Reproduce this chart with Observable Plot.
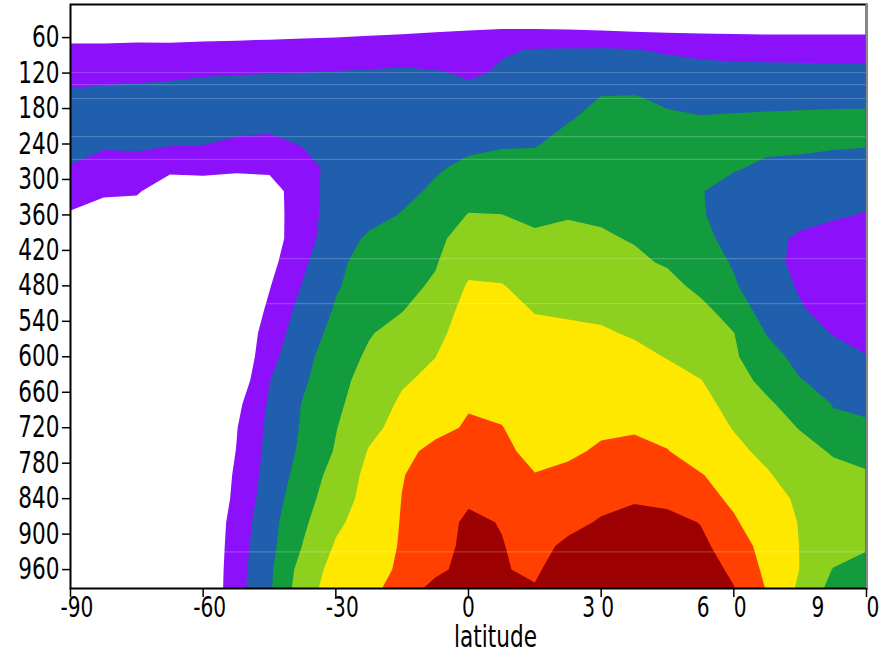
<!DOCTYPE html>
<html>
<head>
<meta charset="utf-8">
<script src="https://cdn.jsdelivr.net/npm/d3@7"></script>
<script src="https://cdn.jsdelivr.net/npm/@observablehq/plot@0.6"></script>
<style>
  html, body { margin: 0; padding: 0; background: #fff; }
  #chart svg { display: block; }
</style>
</head>
<body>
<div id="chart"></div>
<script>
// ---- grid coordinates (sample centres) ----
const latitudes = [-90, -82.5, -75, -67.5, -60, -52.5, -45, -37.5, -30, -22.5, -15, -7.5, 0,
                   7.5, 15, 22.5, 30, 37.5, 45, 52.5, 60, 67.5, 75, 82.5, 90];
const pressures = [0, 40, 80, 120, 160, 200, 240, 280, 320, 360, 400, 440, 480, 520, 560,
                   600, 640, 680, 720, 760, 800, 840, 880, 920, 960, 1000];

// ---- field values (one row per pressure level) ----
const field = [
  [0.10,0.10,0.10,0.10,0.10,0.10,0.10,0.10,0.10,0.10,0.10,0.10,0.10,0.10,0.10,0.10,0.10,0.10,0.10,0.10,0.10,0.10,0.10,0.10,0.10],
  [0.58,0.56,0.56,0.52,0.54,0.56,0.59,0.62,0.64,0.70,0.74,0.83,0.90,0.85,0.84,0.80,0.74,0.66,0.64,0.63,0.63,0.63,0.63,0.65,0.65],
  [1.14,1.15,1.18,1.19,1.23,1.26,1.29,1.32,1.36,1.42,1.47,1.46,1.39,1.94,2.03,2.05,2.06,2.02,1.88,1.75,1.68,1.64,1.62,1.59,1.59],
  [1.70,1.74,1.80,1.84,1.93,1.96,1.98,2.01,2.06,2.11,2.16,2.09,1.89,2.08,2.20,2.36,2.53,2.52,2.42,2.34,2.31,2.30,2.29,2.28,2.28],
  [2.17,2.24,2.27,2.33,2.36,2.41,2.46,2.38,2.40,2.40,2.40,2.35,2.25,2.40,2.45,2.66,3.01,3.03,2.88,2.78,2.74,2.75,2.76,2.77,2.77],
  [2.52,2.58,2.58,2.47,2.43,2.34,2.30,2.40,2.45,2.45,2.45,2.50,2.53,2.70,2.72,2.97,3.18,3.17,3.11,3.06,3.11,3.15,3.18,3.21,3.22],
  [2.32,2.12,2.16,2.08,2.03,1.85,1.76,2.06,2.30,2.35,2.40,2.45,2.83,2.93,2.95,3.22,3.36,3.32,3.25,3.19,3.33,3.24,3.15,3.09,3.06],
  [1.95,1.64,1.66,1.24,1.29,1.17,1.23,1.65,2.30,2.41,2.66,2.91,3.17,3.26,3.24,3.47,3.54,3.47,3.39,3.32,3.10,2.80,2.81,2.73,2.69],
  [1.43,1.13,1.10,0.40,0.45,0.45,0.50,1.65,2.35,2.50,2.79,3.13,3.60,3.63,3.54,3.71,3.71,3.63,3.53,3.05,2.60,2.55,2.49,2.39,2.33],
  [0.90,0.63,0.54,0.20,0.20,0.20,0.50,1.61,2.40,2.70,3.05,3.45,4.04,4.01,3.84,3.95,3.89,3.79,3.67,3.04,2.80,2.58,2.36,2.14,1.93],
  [0.50,0.30,0.10,0.10,0.10,0.10,0.50,1.63,2.53,3.15,3.51,3.80,4.37,4.35,4.13,4.19,4.10,3.94,3.65,3.18,2.78,2.34,1.82,1.55,1.50],
  [0.30,0.10,0.10,0.10,0.10,0.10,0.70,1.83,2.80,3.35,3.60,3.93,4.70,4.69,4.41,4.44,4.35,4.16,3.90,3.38,2.93,2.32,1.75,1.50,1.45],
  [0.10,0.10,0.10,0.10,0.10,0.10,0.95,2.05,2.93,3.34,3.75,4.12,5.10,5.04,4.69,4.68,4.60,4.42,4.30,3.75,3.08,2.48,1.90,1.50,1.45],
  [0.10,0.10,0.10,0.10,0.10,0.10,1.17,2.35,3.08,3.52,3.95,4.60,5.25,5.18,4.97,4.92,4.85,4.68,4.44,4.25,3.55,2.55,2.08,1.65,1.50],
  [0.10,0.10,0.10,0.10,0.10,0.10,1.48,2.52,3.28,3.93,4.37,4.79,5.38,5.35,5.13,5.11,5.08,4.93,4.65,4.38,4.02,2.95,2.44,1.95,1.60],
  [0.10,0.10,0.10,0.10,0.10,0.10,1.71,2.71,3.51,4.15,4.57,4.99,5.56,5.52,5.28,5.28,5.27,5.18,4.97,4.54,4.12,3.38,2.70,2.35,2.05],
  [0.10,0.10,0.10,0.10,0.10,0.30,1.98,2.85,3.70,4.35,4.90,5.22,5.73,5.69,5.42,5.45,5.47,5.42,5.23,5.03,4.39,3.72,3.04,2.70,2.50],
  [0.10,0.10,0.10,0.10,0.10,0.75,2.12,3.05,3.82,4.51,5.15,5.53,5.92,5.86,5.57,5.62,5.66,5.66,5.50,5.25,4.73,4.15,3.55,2.96,2.60],
  [0.10,0.10,0.10,0.10,0.10,0.95,2.24,3.10,3.96,4.77,5.30,5.70,6.12,6.02,5.72,5.79,5.86,5.90,5.76,5.40,4.96,4.46,3.95,3.20,3.30],
  [0.10,0.10,0.10,0.10,0.10,1.02,2.30,3.19,4.08,5.06,5.70,6.30,6.45,6.20,5.75,5.85,6.12,6.25,6.03,5.60,5.20,4.80,4.35,3.90,3.50],
  [0.10,0.10,0.10,0.10,0.10,1.13,2.40,3.38,4.38,5.24,5.96,6.40,6.65,6.50,6.03,6.20,6.35,6.40,6.35,6.05,5.60,5.08,4.60,4.30,4.15],
  [0.10,0.10,0.10,0.10,0.05,1.22,2.52,3.61,4.56,5.32,6.02,6.45,6.85,6.60,6.30,6.50,6.65,6.90,6.80,6.30,5.85,5.35,4.85,4.50,4.30],
  [0.10,0.10,0.10,0.10,0.05,1.42,2.66,3.82,4.81,5.47,6.05,6.50,7.20,6.95,6.40,6.65,7.12,7.35,7.25,6.97,6.10,5.50,4.95,4.60,4.20],
  [0.10,0.10,0.10,0.10,0.05,1.51,2.72,4.03,5.10,5.55,6.08,6.60,7.25,7.05,6.60,7.25,7.40,7.50,7.40,7.20,6.55,5.60,4.98,4.55,4.15],
  [0.10,0.10,0.10,0.10,0.05,1.59,2.83,4.40,5.35,5.65,6.15,6.80,7.30,7.05,6.88,7.45,7.50,7.55,7.45,7.25,6.90,5.75,4.98,3.95,3.50],
  [0.10,0.10,0.10,0.10,0.05,1.64,2.87,4.60,5.50,5.70,6.65,7.40,7.40,7.30,7.10,7.50,7.55,7.55,7.55,7.30,7.05,5.98,4.75,3.60,3.30]
];

// ---- contour levels and their colours ----
const levels = [1, 2, 3, 4, 5, 6, 7];
const levelColors = ["#8c10fa", "#1f5fad", "#139c3e", "#8dd01e", "#ffe800", "#ff4000", "#9c0000"];

// ---- axes ----
const latExtent = [-90, 90];
const pressureExtent = [4, 992];
const xTicks = [-90, -60, -30, 0, 30, 60, 90];
const yTicks = [60, 120, 180, 240, 300, 360, 420, 480, 540, 600, 660, 720, 780, 840, 900, 960];
const xLabel = "latitude";

// faint horizontal seams visible in the picture (pressure values)
const seams = [119, 139.5, 163, 227.5, 266, 434, 510, 930];

const nx = latitudes.length, ny = pressures.length;
const dLat = latitudes[1] - latitudes[0];
const dP = pressures[1] - pressures[0];
const values = field.flat();

const font = '"Liberation Sans Narrow", "DejaVu Sans Condensed", "Roboto Condensed", "Open Sans", Roboto, sans-serif';

const chart = Plot.plot({
  width: 892,
  height: 658,
  marginLeft: 70,
  marginRight: 26,
  marginTop: 4,
  marginBottom: 70,
  style: { fontFamily: font, fontStretch: "condensed", color: "#000", background: "#fff" },
  x: { domain: latExtent },
  y: { domain: pressureExtent, reverse: true },
  color: { type: "ordinal", domain: levels, range: levelColors },
  marks: [
    Plot.contour(values, {
      width: nx, height: ny,
      x1: latitudes[0] - dLat / 2, x2: latitudes[nx - 1] + dLat / 2,
      y1: pressures[0] - dP / 2, y2: pressures[ny - 1] + dP / 2,
      fill: Plot.identity,
      thresholds: levels,
      clip: true
    }),
    Plot.ruleY(seams, { stroke: "#fff", strokeOpacity: 0.2, strokeWidth: 1.2 }),
    Plot.frame({ stroke: "#000", strokeWidth: 2 }),
    Plot.ruleX([latExtent[1]], { stroke: "#8a8a8a", strokeWidth: 2 }),
    Plot.axisY({ ticks: yTicks, tickSize: 8, tickPadding: 3, fontSize: 30, strokeWidth: 1.5, label: null }),
    Plot.axisX({ ticks: xTicks, tickSize: 9, tickPadding: 0, fontSize: 28, strokeWidth: 1.5, label: null,
                 tickFormat: d => String(d) }),
    Plot.text([xLabel], { text: d => d, frameAnchor: "bottom", dx: 27, dy: 58, fontSize: 30 })
  ]
});

document.getElementById("chart").append(chart);

// narrow (condensed) glyphs like the picture's typeface: horizontal squeeze only
const sx = 0.8;
function squeeze(t) {
  const tr = t.getAttribute("transform") || "";
  t.setAttribute("transform", `${tr} scale(${sx},1)`);
}
chart.querySelectorAll('g[aria-label="y-axis tick label"] text').forEach(squeeze);
chart.querySelectorAll("text").forEach(t => { if (t.textContent === xLabel) squeeze(t); });

// reproduce the odd spacing of the x tick labels seen in the picture
const svgNS = "http://www.w3.org/2000/svg";
chart.querySelectorAll('g[aria-label="x-axis tick label"] text').forEach(t => {
  const s = t.textContent;
  const v = +s;
  squeeze(t);
  if (v < 0) {
    t.setAttribute("text-anchor", "start");
    t.setAttribute("dx", -10 / sx);
  } else if (v > 0) {
    const w = t.getSubStringLength(0, 1) * sx;
    const first = -(0.6 * v + 1);
    const gap = Math.max(0, -first - w);
    t.textContent = "";
    const a = document.createElementNS(svgNS, "tspan");
    a.textContent = s.slice(0, 1);
    a.setAttribute("dx", first / sx);
    const b = document.createElementNS(svgNS, "tspan");
    b.textContent = s.slice(1);
    b.setAttribute("dx", gap / sx);
    t.setAttribute("text-anchor", "start");
    t.append(a, b);
  }
});
</script>
</body>
</html>
